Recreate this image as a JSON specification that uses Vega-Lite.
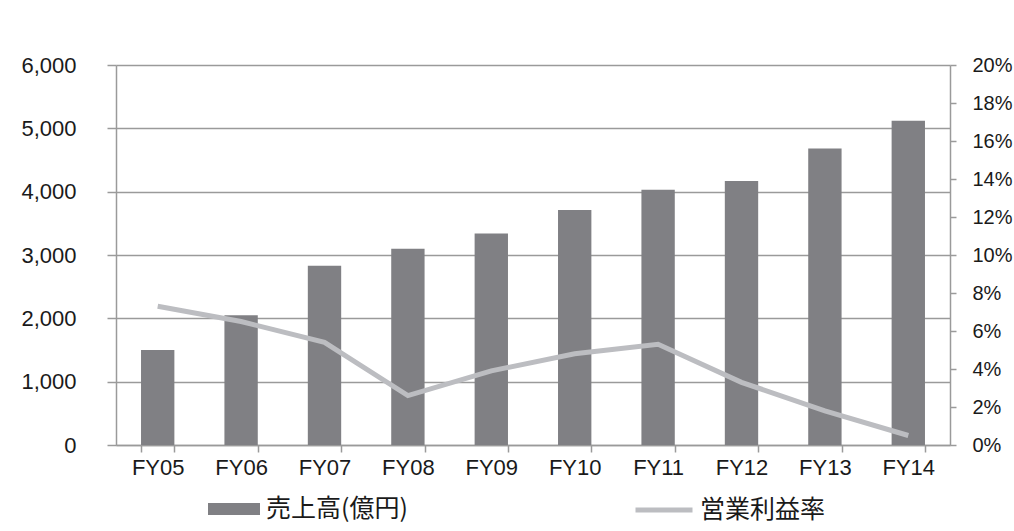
{
  "$schema": "https://vega.github.io/schema/vega-lite/v6.json",
  "width": 834,
  "height": 380,
  "autosize": {"type": "none"},
  "padding": {"left": 116, "top": 65, "right": 64, "bottom": 86},
  "background": "#ffffff",
  "config": {
    "view": {"stroke": null},
    "axis": {
      "labelFont": "Liberation Sans",
      "labelColor": "#1a1a1a",
      "domainColor": "#9a9a9a",
      "domainWidth": 1.5,
      "tickColor": "#9a9a9a",
      "tickWidth": 1.5,
      "gridColor": "#9a9a9a",
      "gridWidth": 1.5,
      "title": null
    },
    "legend": {
      "labelFont": "Noto Sans CJK JP",
      "labelFontSize": 25,
      "labelColor": "#1a1a1a",
      "padding": 0,
      "title": null
    }
  },
  "data": {
    "values": [
      {"fy": "FY05", "sales": 1500, "margin": 7.3},
      {"fy": "FY06", "sales": 2050, "margin": 6.5},
      {"fy": "FY07", "sales": 2830, "margin": 5.4},
      {"fy": "FY08", "sales": 3100, "margin": 2.6},
      {"fy": "FY09", "sales": 3340, "margin": 3.9},
      {"fy": "FY10", "sales": 3710, "margin": 4.8},
      {"fy": "FY11", "sales": 4030, "margin": 5.3},
      {"fy": "FY12", "sales": 4170, "margin": 3.3},
      {"fy": "FY13", "sales": 4680, "margin": 1.8},
      {"fy": "FY14", "sales": 5120, "margin": 0.5}
    ]
  },
  "encoding": {
    "x": {
      "field": "fy",
      "type": "ordinal",
      "sort": null,
      "scale": {"paddingInner": 0.6, "paddingOuter": 0.3},
      "axis": {
        "labelAngle": 0,
        "labelFontSize": 22,
        "tickBand": "extent",
        "tickSize": 7,
        "labelPadding": 5
      }
    }
  },
  "layer": [
    {
      "mark": {"type": "bar", "color": "#808084"},
      "encoding": {
        "y": {
          "field": "sales",
          "type": "quantitative",
          "scale": {"domain": [0, 6000]},
          "axis": {
            "values": [0, 1000, 2000, 3000, 4000, 5000, 6000],
            "format": ",d",
            "labelFontSize": 22,
            "tickSize": 9,
            "labelPadding": 31,
            "grid": true
          }
        },
        "color": {
          "datum": "売上高(億円)",
          "scale": {"range": ["#808084"]},
          "legend": {
            "orient": "none",
            "legendX": 92,
            "legendY": 418,
            "symbolType": "M-1,-0.23L1,-0.23L1,0.23L-1,0.23Z",
            "symbolSize": 2704,
            "symbolStrokeWidth": 0,
            "symbolOpacity": 1,
            "labelOffset": 6
          }
        }
      }
    },
    {
      "mark": {"type": "line", "strokeWidth": 5, "color": "#bcbdc1"},
      "encoding": {
        "y": {
          "field": "margin",
          "type": "quantitative",
          "scale": {"domain": [0, 20]},
          "axis": {
            "orient": "right",
            "values": [0, 2, 4, 6, 8, 10, 12, 14, 16, 18, 20],
            "labelExpr": "datum.value + '%'",
            "labelFontSize": 20,
            "tickSize": 6,
            "labelPadding": 16,
            "grid": false
          }
        },
        "stroke": {
          "datum": "営業利益率",
          "scale": {"range": ["#bcbdc1"]},
          "legend": {
            "orient": "none",
            "legendX": 517,
            "legendY": 414,
            "symbolType": "stroke",
            "symbolSize": 3249,
            "symbolStrokeWidth": 5,
            "labelOffset": 5
          }
        }
      }
    }
  ],
  "resolve": {"scale": {"y": "independent"}}
}
